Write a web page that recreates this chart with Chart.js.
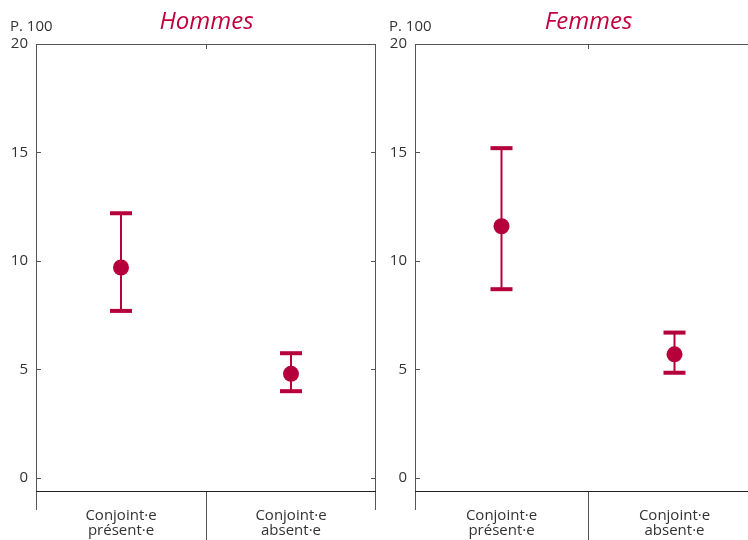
<!DOCTYPE html>
<html>
<head>
<meta charset="utf-8">
<script src="https://cdn.jsdelivr.net/npm/chart.js@4.4.1/dist/chart.umd.min.js"></script>
<style>
  html, body { margin: 0; padding: 0; background: #fff; overflow: hidden; }
  .panel { position: absolute; top: 0; height: 540px; }
</style>
</head>
<body>
<div class="panel" style="left:0;width:380px"><canvas id="hommes"></canvas></div>
<div class="panel" style="left:380px;width:385px"><canvas id="femmes"></canvas></div>
<script>
// ── données ──────────────────────────────────────────────────────────────
const categories = [["Conjoint·e", "présent·e"], ["Conjoint·e", "absent·e"]];
const yTicks = [0, 5, 10, 15, 20];

const hommesValues = [9.7, 4.8];
const hommesLow    = [7.7, 4.0];
const hommesHigh   = [12.2, 5.75];

const femmesValues = [11.6, 5.7];
const femmesLow    = [8.7, 4.85];
const femmesHigh   = [15.2, 6.7];

// ── style ────────────────────────────────────────────────────────────────
const RED   = "#b5003b";
const TITLE = "#c3003f";
const TEXT  = "#333";
const FONT  = "'Open Sans', sans-serif";

// ── plugin : cadre, graduations, barres d'erreur, titres ─────────────────
function panelPlugin(title, low, high, rightBorder) {
  return {
    id: "panel",
    beforeDatasetsDraw(chart) {
      const { ctx, chartArea: a, scales: { x, y } } = chart;
      ctx.save();
      // cadre
      ctx.strokeStyle = "#555";
      ctx.lineWidth = 1;
      ctx.beginPath();
      ctx.moveTo(a.left + 0.5, a.top + 0.5);
      ctx.lineTo(a.left + 0.5, a.bottom + 19);
      ctx.moveTo(a.left, a.top + 0.5);
      ctx.lineTo(a.right, a.top + 0.5);
      if (rightBorder) {
        ctx.moveTo(a.right - 0.5, a.top);
        ctx.lineTo(a.right - 0.5, a.bottom + 19);
      }
      // séparateur de catégories
      const mid = Math.round((x.getPixelForValue(0) + x.getPixelForValue(1)) / 2) + 0.5;
      ctx.moveTo(mid, a.top);
      ctx.lineTo(mid, a.top + 5);
      ctx.moveTo(mid, a.bottom);
      ctx.lineTo(mid, chart.height);
      // graduations y (vers l'intérieur)
      yTicks.forEach((v) => {
        const py = Math.round(y.getPixelForValue(v)) + 0.5;
        ctx.moveTo(a.left, py);
        ctx.lineTo(a.left + 5, py);
        if (rightBorder) {
          ctx.moveTo(a.right, py);
          ctx.lineTo(a.right - 5, py);
        }
      });
      ctx.stroke();
      // axe x
      ctx.strokeStyle = "#222";
      ctx.beginPath();
      ctx.moveTo(a.left, a.bottom + 0.5);
      ctx.lineTo(a.right, a.bottom + 0.5);
      ctx.stroke();

      // barres d'erreur
      ctx.strokeStyle = RED;
      ctx.fillStyle = RED;
      low.forEach((lo, i) => {
        const px = x.getPixelForValue(i);
        const yl = y.getPixelForValue(lo);
        const yh = y.getPixelForValue(high[i]);
        ctx.lineWidth = 2;
        ctx.beginPath();
        ctx.moveTo(px, yl);
        ctx.lineTo(px, yh);
        ctx.stroke();
        ctx.fillRect(px - 11, yh - 2, 22, 4);
        ctx.fillRect(px - 11, yl - 2, 22, 4);
      });

      // textes
      ctx.fillStyle = TEXT;
      ctx.font = `15px ${FONT}`;
      ctx.textAlign = "left";
      ctx.textBaseline = "middle";
      ctx.fillText("P. 100", a.left - 26, 27);
      ctx.fillStyle = TITLE;
      ctx.font = `italic 24px ${FONT}`;
      ctx.textAlign = "center";
      ctx.fillText(title, mid, 22);
      ctx.restore();
    },
  };
}

function makeChart(id, title, values, low, high, leftW, rightPad, rightBorder) {
  return new Chart(document.getElementById(id), {
    type: "line",
    data: {
      labels: categories,
      datasets: [{
        data: values,
        showLine: false,
        pointRadius: 8,
        pointHoverRadius: 8,
        pointBackgroundColor: RED,
        pointBorderColor: RED,
        pointBorderWidth: 0,
      }],
    },
    options: {
      responsive: true,
      maintainAspectRatio: false,
      animation: false,
      layout: { autoPadding: false, padding: { top: 44, right: rightPad, left: 0, bottom: 0 } },
      plugins: { legend: { display: false }, tooltip: { enabled: false }, title: { display: false } },
      scales: {
        x: {
          offset: true,
          grid: { display: false, drawTicks: false },
          border: { display: false },
          ticks: { color: TEXT, font: { size: 15, family: FONT, lineHeight: 1.0 }, padding: 17, maxRotation: 0 },
          afterFit: (s) => { s.height = 49; s.paddingLeft = 0; s.paddingRight = 0; },
        },
        y: {
          min: -0.6,
          max: 20,
          grid: { display: false, drawTicks: false },
          border: { display: false },
          ticks: { color: TEXT, font: { size: 15, family: FONT }, padding: 8 },
          afterBuildTicks: (s) => { s.ticks = yTicks.map((v) => ({ value: v })); },
          afterFit: (s) => { s.width = leftW; },
        },
      },
    },
    plugins: [panelPlugin(title, low, high, rightBorder)],
  });
}

makeChart("hommes", "Hommes", hommesValues, hommesLow, hommesHigh, 36, 4, true);
makeChart("femmes", "Femmes", femmesValues, femmesLow, femmesHigh, 35, 4, false);
</script>
</body>
</html>
